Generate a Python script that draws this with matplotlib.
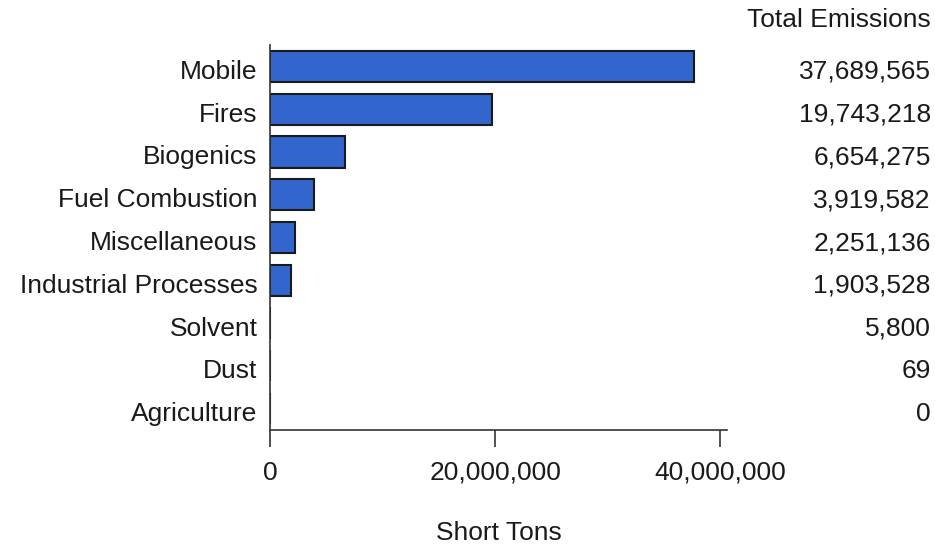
import numpy as np
import matplotlib

matplotlib.use('Agg')
import matplotlib.pyplot as plt
import matplotlib.transforms as mtransforms
from matplotlib.ticker import FuncFormatter

# 各排放源类别及总排放量（短吨）
categories = ['Mobile', 'Fires', 'Biogenics', 'Fuel Combustion', 'Miscellaneous',
              'Industrial Processes', 'Solvent', 'Dust', 'Agriculture']
emissions = [37689565, 19743218, 6654275, 3919582, 2251136, 1903528, 5800, 69, 0]
x_ticks = [0, 20000000, 40000000]

plt.rcParams['font.family'] = ['Liberation Sans', 'DejaVu Sans']
fs = 19
txt_color = '#1a1a1a'

fig = plt.figure(figsize=(9.35, 5.44), dpi=100)
ax = fig.add_axes([0.2888, 0.2096, 0.4887, 0.7077])

y = np.arange(len(categories))
ax.barh(y, emissions, height=0.73, color='#3366cc', edgecolor='#1a1a1a', linewidth=1.5)

ax.set_ylim(len(categories) - 0.5, -0.5)
ax.set_xlim(0, 40600000)
ax.set_yticks(y)
ax.set_yticklabels(categories, fontsize=fs, color=txt_color)
ax.tick_params(axis='y', length=0, pad=9)
# 标签略微下移
offset = mtransforms.ScaledTranslation(0, -3 / 100, fig.dpi_scale_trans)
for lbl in ax.get_yticklabels():
    lbl.set_transform(lbl.get_transform() + offset)

ax.set_xticks(x_ticks)
ax.xaxis.set_major_formatter(FuncFormatter(lambda v, p: f"{int(v):,}"))
ax.tick_params(axis='x', length=12, width=1.2, labelsize=fs, pad=10, color='#333333',
               labelcolor=txt_color)
ax.set_xlabel('Short Tons', fontsize=fs, labelpad=26, color=txt_color)

for s in ['top', 'right']:
    ax.spines[s].set_visible(False)
for s in ['left', 'bottom']:
    ax.spines[s].set_linewidth(1.2)
    ax.spines[s].set_color('#333333')

# 右侧总量列
fig.text(0.995, 1 - 20 / 544, 'Total Emissions', ha='right', va='center', fontsize=fs,
         color=txt_color)
for i, v in enumerate(emissions):
    ax.annotate(f"{v:,}", xy=(1, i), xycoords=('figure fraction', 'data'),
                xytext=(-3, -4), textcoords='offset points',
                ha='right', va='center', fontsize=fs, color=txt_color)

plt.savefig('out.png')
